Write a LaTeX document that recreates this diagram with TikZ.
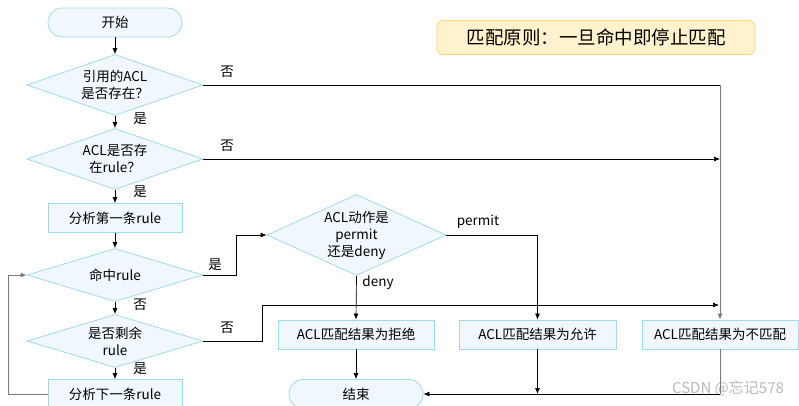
\documentclass[tikz,border=0pt]{standalone}
\usepackage{fontspec}
\setmainfont{Noto Sans CJK SC}
\usetikzlibrary{shapes.geometric,arrows.meta}
\definecolor{bfill}{RGB}{240,248,253}
\definecolor{bdraw}{RGB}{160,218,242}
\definecolor{tfill}{RGB}{255,242,204}
\definecolor{tdraw}{RGB}{255,214,120}
\definecolor{lgray}{RGB}{120,120,120}
\begin{document}
\begin{tikzpicture}[x=1pt,y=-1pt,font=\fontsize{13.5}{17}\selectfont,
  proc/.style={draw=bdraw,fill=bfill,minimum width=134,minimum height=29,inner sep=0,line width=0.8pt},
  term/.style={proc,rounded corners=14.5},
  dec/.style={diamond,draw=bdraw,fill=bfill,align=center,inner sep=0,shape aspect=2.9,minimum width=176,minimum height=61,line width=0.8pt},
  arr/.style={-{Latex[length=6pt,width=5pt]},line width=0.7pt},
  ln/.style={line width=0.7pt},
  lab/.style={inner sep=1pt}]
\useasboundingbox (0,0) rectangle (799,405);
\node[term] (start) at (115,22.5) {开始};
\node[dec] (d1) at (115,85) {引用的ACL\\是否存在？};
\node[dec] (d2) at (115,159) {ACL是否存\\在rule？};
\node[proc] (first) at (115,218) {分析第一条rule};
\node[dec,minimum height=53] (hit) at (115,275) {命中rule};
\node[dec,minimum height=53] (remain) at (115,341) {是否剩余\\rule};
\node[proc] (next) at (115,394) {分析下一条rule};
\node[dec,minimum width=179,minimum height=81,shape aspect=2.2] (act) at (356.5,235) {ACL动作是\\permit\\还是deny};
\node[proc,minimum width=156] (deny) at (356,334.5) {ACL匹配结果为拒绝};
\node[proc,minimum width=157] (permit) at (537.5,334.5) {ACL匹配结果为允许};
\node[proc,minimum width=156] (nomatch) at (720,334.5) {ACL匹配结果为不匹配};
\node[term] (end) at (356,394) {结束};
\node[draw=tdraw,fill=tfill,rounded corners=5,minimum width=318,minimum height=34,line width=0.8pt,font=\fontsize{18.5}{20}\selectfont] (rule) at (596,37.5) {匹配原则：一旦命中即停止匹配};
\node[text=gray!55,font=\fontsize{15}{17}\selectfont] (wm) at (728,388) {CSDN @忘记578};
% labels
\node[lab] (l1) at (227,72) {否};
\node[lab] (l2) at (140,119) {是};
\node[lab] (l3) at (227,146) {否};
\node[lab] (l4) at (140,192) {是};
\node[lab] (l5) at (215,265) {是};
\node[lab] (l6) at (140,305) {否};
\node[lab] (l7) at (227,328) {否};
\node[lab] (l8) at (140,369) {是};
\node[lab] (l9) at (378,283) {deny};
\node[lab] (l10) at (478,222) {permit};
% coordinates
\coordinate (j1) at (nomatch.north |- d1.east);
\coordinate (j2) at (nomatch.north |- d2.east);
\coordinate (j3) at (719,305);
\coordinate (j4) at (permit.south |- end.east);
\coordinate (j5) at (nomatch.south |- end.east);
\coordinate (lp) at (8,394);
% edges
\draw[arr] (start) -- (d1);
\draw[arr] (d1) -- (d2);
\draw[arr] (d2) -- (first);
\draw[arr] (first) -- (hit);
\draw[arr] (hit) -- (remain);
\draw[arr] (remain) -- (next);
\draw[ln] (d1.east) -- (j1);
\draw[arr,draw=lgray,line width=1pt] (j1) -- (nomatch.north);
\draw[arr] (d2.east) -- (j2);
\draw[arr] (hit.east) -- ++(33,0) |- (act.west);
\draw[arr] (remain.east) -- ++(59,0) |- (j3);
\draw[arr,draw=lgray,line width=1pt] (next.west) -- (lp) |- (hit.west);
\draw[arr] (act.south) -- (deny.north);
\draw[arr] (act.east) -| (permit.north);
\draw[arr] (deny) -- (end);
\draw[arr] (permit.south) -- (j4);
\draw[draw=lgray,line width=1pt] (nomatch.south) -- (j5);
\draw[arr] (j5) -- (end.east);
\end{tikzpicture}
\end{document}
